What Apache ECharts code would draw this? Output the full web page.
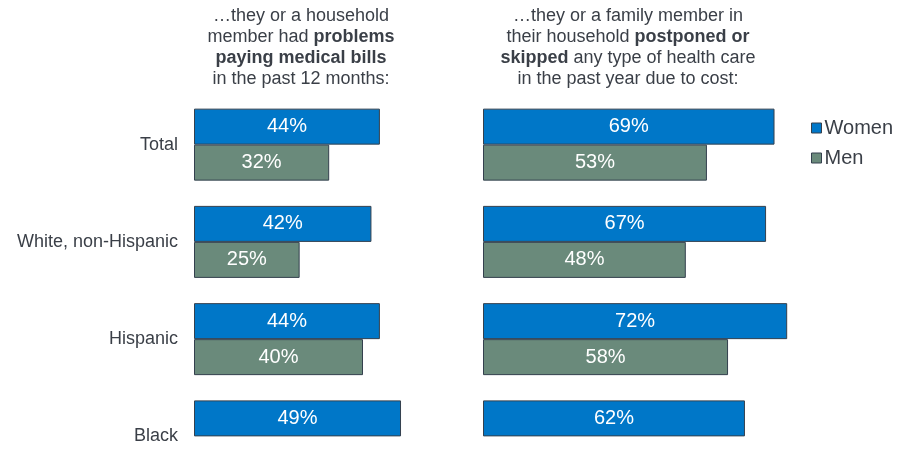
<!DOCTYPE html>
<html>
<head>
<meta charset="utf-8">
<script src="https://cdn.jsdelivr.net/npm/echarts@6/dist/echarts.min.js"></script>
<style>html,body{margin:0;padding:0;background:#fff}#c{width:899px;height:450px}</style>
</head>
<body>
<div id="c"></div>
<script>
const categories = ['Total', 'White, non-Hispanic', 'Hispanic', 'Black'];
const billsWomen = [44, 42, 44, 49];
const billsMen = [32, 25, 40, null];
const skipWomen = [69, 67, 72, 62];
const skipMen = [53, 48, 58, null];

const chart = echarts.init(document.getElementById('c'));
const txt = '#3a3f47';
const WOMEN = '#0077C8';
const MEN = '#6A8A7B';
const border = '#34404e';
const FF = 'Liberation Sans, Arial, sans-serif';
function barSeries(name, data, idx, color) {
  return {
    name: name, type: 'bar', xAxisIndex: idx, yAxisIndex: idx,
    data: data.map(v => v == null ? '-' : v),
    barWidth: 36, barGap: '0%',
    itemStyle: { color: color, borderColor: border, borderWidth: 1 },
    label: { show: true, position: 'inside', color: '#fff', fontSize: 20,
      fontFamily: FF, formatter: p => p.value + '%' }
  };
}
const titleStyle = {
  fontSize: 18, color: txt, fontFamily: FF, lineHeight: 21, fontWeight: 'normal',
  rich: { b: { fontSize: 18, fontWeight: 'bold', color: txt, lineHeight: 21, fontFamily: FF },
          n: { fontSize: 18, color: txt, lineHeight: 21, fontFamily: FF } }
};
chart.setOption({
  animation: false,
  title: [
    { text: '{n|…they or a household}\n{n|member had }{b|problems}\n{b|paying medical bills}\n{n|in the past 12 months:}',
      left: 296, top: 1, textAlign: 'center', textStyle: titleStyle },
    { text: '{n|…they or a family member in}\n{n|their household }{b|postponed or}\n{b|skipped}{n| any type of health care}\n{n|in the past year due to cost:}',
      left: 623, top: 1, textAlign: 'center', textStyle: titleStyle }
  ],
  legend: {
    data: ['Women', 'Men'], orient: 'vertical', left: 806, top: 113, itemGap: 10,
    icon: 'rect', itemWidth: 10, itemHeight: 10,
    itemStyle: { borderColor: border, borderWidth: 1 },
    textStyle: { fontSize: 20, color: txt, fontFamily: FF, padding: [0, 0, 0, -2] }
  },
  grid: [
    { left: 194, top: 96, width: 253.5, height: 389, outerBoundsMode: 'none', containLabel: false },
    { left: 483, top: 96, width: 338, height: 389, outerBoundsMode: 'none', containLabel: false }
  ],
  xAxis: [
    { gridIndex: 0, type: 'value', min: 0, max: 60, show: false },
    { gridIndex: 1, type: 'value', min: 0, max: 80, show: false }
  ],
  yAxis: [
    { gridIndex: 0, type: 'category', data: categories, inverse: true,
      axisLine: { show: false }, axisTick: { show: false },
      axisLabel: { margin: 16, fontSize: 18, color: txt, fontFamily: FF, padding: [3, 0, 0, 0] } },
    { gridIndex: 1, type: 'category', data: categories, inverse: true,
      axisLine: { show: false }, axisTick: { show: false }, axisLabel: { show: false } }
  ],
  series: [
    barSeries('Women', billsWomen, 0, WOMEN),
    barSeries('Men', billsMen, 0, MEN),
    barSeries('Women', skipWomen, 1, WOMEN),
    barSeries('Men', skipMen, 1, MEN)
  ]
});
</script>
</body>
</html>
